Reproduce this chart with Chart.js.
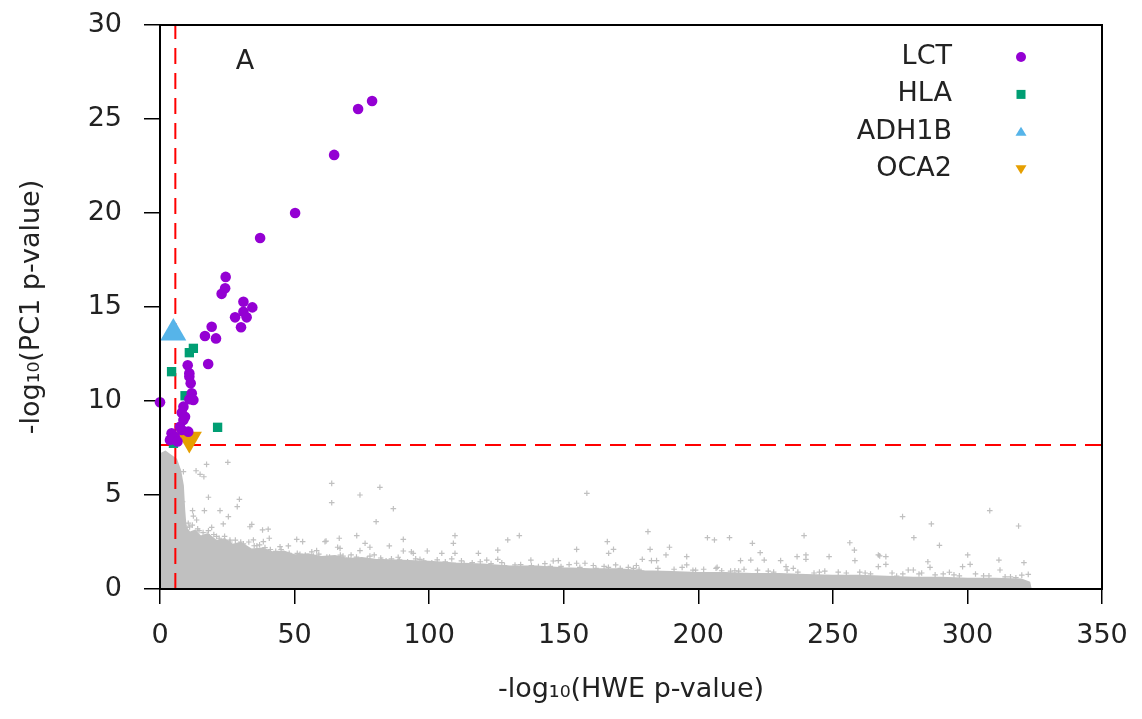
<!DOCTYPE html>
<html>
<head>
<meta charset="utf-8">
<script src="https://cdn.jsdelivr.net/npm/chart.js@4/dist/chart.umd.min.js"></script>
<style>
html,body{margin:0;padding:0;background:#fff;}
#wrap{width:1142px;height:719px;position:relative;}
</style>
</head>
<body>
<div id="wrap"><canvas id="c" width="1142" height="719"></canvas></div>
<script>
// ---------------- data ----------------
const seriesNames = ['LCT', 'HLA', 'ADH1B', 'OCA2'];
const seriesColors = ['#9400d3', '#009e73', '#56b4e9', '#e69f00'];
const panelLabel = 'A';
const xTitle = '-log\u2081\u2080(HWE p-value)';
const yTitle = '-log\u2081\u2080(PC1 p-value)';
const xTicks = [0, 50, 100, 150, 200, 250, 300, 350];
const yTicks = [0, 5, 10, 15, 20, 25, 30];
const hweThreshold = 5.7;
const pc1Threshold = 7.66;

const lctX = [78.8, 73.6, 64.7, 50.2, 37.2, 24.4, 24.2, 22.9, 31.0, 34.3, 31.0, 27.9, 32.2, 30.1, 19.2, 16.7, 20.8, 17.9, 10.3, 10.9, 10.9, 11.4, 11.8, 12.4, 10.9, 0.0, 8.7, 8.1, 9.3, 8.7, 8.1, 7.4, 4.3, 10.5, 3.7, 5.5, 6.5];
const lctY = [25.96, 25.53, 23.09, 20.0, 18.67, 16.6, 16.0, 15.7, 15.28, 14.98, 14.75, 14.45, 14.45, 13.92, 13.95, 13.46, 13.33, 11.97, 11.9, 11.47, 11.3, 10.94, 10.41, 10.05, 10.09, 9.93, 9.70, 9.38, 9.16, 8.99, 8.46, 8.63, 8.28, 8.37, 7.93, 8.1, 7.85];

const hlaX = [12.4, 10.9, 4.3, 9.3, 21.4, 5.0];
const hlaY = [12.8, 12.57, 11.56, 10.28, 8.6, 7.75];

const adhX = [4.95];
const adhY = [13.62];

const ocaX = [10.9];
const ocaY = [7.98];

// dense background region: upper edge of the solid grey mass
const denseX = [0, 0.5, 2, 4, 6, 7.5, 8.5, 9, 9.5, 11, 13, 15, 18, 21, 24, 27, 30, 34, 38, 42, 46, 50, 55, 60, 65, 70, 75, 80, 90, 100, 110, 120, 130, 140, 150, 160, 170, 180, 190, 200, 210, 220, 230, 240, 250, 260, 270, 280, 290, 300, 310, 320, 323, 323.5];
const denseY = [7.0, 7.2, 7.3, 7.1, 6.9, 6.3, 5.5, 4.2, 3.3, 3.0, 3.1, 2.8, 2.9, 2.55, 2.65, 2.35, 2.45, 2.1, 2.15, 1.95, 2.0, 1.8, 1.85, 1.7, 1.75, 1.6, 1.65, 1.55, 1.5, 1.45, 1.35, 1.3, 1.2, 1.2, 1.1, 1.05, 1.05, 0.95, 0.9, 0.85, 0.85, 0.8, 0.8, 0.75, 0.7, 0.7, 0.65, 0.6, 0.6, 0.55, 0.55, 0.5, 0.35, 0];

// scattered background SNPs above the dense mass
const bgX = [17.3, 25.2, 13.4, 14.9, 16.3, 8.7, 18.0, 29.5, 28.7, 22.3, 16.5, 12.1, 8.4, 8.1, 25.4, 23.5, 19.2, 34.1, 33.4, 38.1, 40.2, 40.6, 38.4, 34.7, 12.4, 13.6, 7.4, 9.7,
  63.8, 63.8, 74.3, 81.7, 86.7, 80.3, 50.8, 61.3, 66.6, 73.1, 76.2, 78.0, 85.2, 90.4, 90.4, 94.1, 99.3, 44.6, 56.4, 66.9, 53.0, 47.7, 61.7, 66.0, 74.3, 58.2, 71.0, 79.6, 88.5, 82.4, 96.6, 104.7, 109.6, 109.0, 109.6, 108.4,
  158.6, 308.3, 275.9, 286.6, 319.0, 280.1, 289.6, 181.3, 239.3, 203.4, 206.0, 211.6, 220.1, 166.2, 166.7, 129.2, 133.5, 154.8, 182.1, 189.3, 256.3, 258.0, 300.1, 321.0, 311.7, 195.7, 248.6, 236.7, 223.0, 267.4, 125.5, 93.4, 137.8, 148.0, 179.2, 215.7, 285.3,
  312.1, 301.0, 298.2, 286.1, 278.0, 279.9, 293.3, 320.2, 322.6, 273.7, 240.0, 240.0, 258.2, 266.9, 269.7, 269.7, 266.9, 206.6, 208.7, 213.6, 232.6, 235.3, 195.7, 219.5, 224.5, 230.6, 168.5, 118.3, 125.5, 146.1, 154.8, 157.9, 182.6, 184.5, 188.0, 131.9, 169.3, 175.9, 166.6, 121.4, 140.6,
  11.0, 14.5, 17.5, 21.0, 26.0, 30.0, 36.0, 43.0, 48.0, 52.0, 57.0, 63.0, 68.0, 77.0, 84.0, 92.0, 101.0, 113.0, 128.0, 145.0, 162.0, 178.0, 198.0, 215.0, 228.0, 245.0, 262.0, 282.0, 295.0, 308.0, 316.0,
  10.5, 12, 14, 16, 18, 20, 22, 24, 26, 28, 31, 33, 35, 37, 39, 41, 45,
  51, 54, 59, 62, 67, 70, 73, 78, 82, 86, 89, 95, 98, 103, 106, 112, 116, 119,
  123, 127, 134, 138, 143, 149, 152, 156, 161, 165, 171, 174, 177, 185, 191, 194, 199,
  202, 207, 212, 217, 222, 226, 233, 237, 243, 247, 252, 255, 260, 264, 272, 276, 283, 288, 291, 297, 303, 306, 314, 318];
const bgY = [6.63, 6.74, 6.29, 6.10, 5.97, 6.24, 4.88, 4.77, 4.38, 4.17, 4.17, 4.17, 4.64, 4.29, 3.85, 3.46, 3.28, 3.44, 3.31, 3.14, 3.18, 2.70, 2.52, 2.61, 3.88, 3.67, 3.71, 3.28,
  5.62, 4.59, 5.0, 5.41, 4.27, 3.58, 2.64, 2.52, 2.70, 2.84, 2.43, 2.22, 2.29, 2.64, 2.02, 1.90, 2.02, 2.25, 1.98, 2.16, 2.52, 2.29, 2.55, 2.22, 2.04, 2.04, 1.81, 1.81, 1.69, 1.54, 1.58, 1.90, 2.84, 2.43, 1.90, 1.60,
  5.09, 4.17, 3.85, 3.46, 3.35, 2.73, 2.32, 3.05, 2.84, 2.73, 2.61, 2.73, 2.43, 2.52, 1.90, 2.61, 2.84, 2.11, 2.11, 2.22, 2.46, 2.07, 1.81, 1.40, 1.54, 1.72, 1.72, 1.72, 1.93, 1.76, 2.07, 1.98, 1.54, 1.51, 1.58, 1.51, 1.45,
  1.01, 1.31, 1.19, 1.15, 1.01, 1.01, 0.89, 0.74, 0.78, 0.69, 1.81, 1.58, 1.51, 1.81, 1.72, 1.31, 1.19, 1.10, 0.97, 0.97, 1.19, 1.10, 1.28, 1.54, 1.54, 1.51, 2.11, 1.90, 1.58, 1.49, 1.37, 1.37, 1.51, 1.51, 1.81, 1.28, 1.28, 1.10, 1.15, 1.54, 1.19,
  3.3, 3.1, 2.9, 2.8, 2.6, 2.5, 2.3, 2.0, 1.9, 1.85, 1.75, 1.7, 1.75, 1.6, 1.5, 1.45, 1.4, 1.35, 1.25, 1.2, 1.1, 1.05, 1.0, 0.95, 0.9, 0.9, 0.85, 0.8, 0.75, 0.7, 0.65,
  3.5, 3.4, 3.2, 3.0, 3.1, 2.9, 2.7, 2.8, 2.5, 2.6, 2.4, 2.5, 2.3, 2.35, 2.2, 2.1, 2.1,
  1.9, 1.8, 1.85, 1.7, 1.8, 1.65, 1.7, 1.75, 1.65, 1.6, 1.55, 1.6, 1.5, 1.55, 1.45, 1.5, 1.4, 1.45,
  1.35, 1.4, 1.3, 1.25, 1.35, 1.2, 1.3, 1.15, 1.25, 1.2, 1.1, 1.15, 1.25, 1.1, 1.05, 1.15, 1.0,
  1.05, 1.15, 0.95, 1.05, 1.0, 0.95, 1.0, 0.9, 0.85, 0.95, 0.9, 0.85, 0.9, 0.8, 0.85, 0.8, 0.85, 0.75, 0.8, 0.7, 0.8, 0.7, 0.65, 0.6];

// ---------------- chart ----------------
const pts = (xs, ys) => xs.map((x, i) => ({x: x, y: ys[i]}));
const FONT = "'DejaVu Sans', sans-serif";
const FSIZE = 27;
const GREY = '#c0c0c0';
const TXT = '#222';

function marker(ctx, style, x, y, s, color) {
  ctx.save();
  ctx.fillStyle = color;
  ctx.beginPath();
  if (style === 'circle') {
    ctx.arc(x, y, s / 2, 0, Math.PI * 2);
  } else if (style === 'rect') {
    ctx.rect(x - s / 2, y - s / 2, s, s);
  } else if (style === 'triangle') {
    ctx.moveTo(x, y - s * 0.45); ctx.lineTo(x + s / 2, y + s * 0.35); ctx.lineTo(x - s / 2, y + s * 0.35);
  } else {
    ctx.moveTo(x, y + s * 0.45); ctx.lineTo(x + s / 2, y - s * 0.35); ctx.lineTo(x - s / 2, y - s * 0.35);
  }
  ctx.closePath();
  ctx.fill();
  ctx.restore();
}

const decor = {
  id: 'decor',
  afterDatasetsDraw(chart) {
    const ctx = chart.ctx;
    const a = chart.chartArea;
    ctx.save();
    ctx.strokeStyle = '#000';
    ctx.lineWidth = 2;
    ctx.strokeRect(a.left, a.top, a.right - a.left, a.bottom - a.top);
    // legend (gnuplot style: text right-aligned, symbol at right)
    ctx.font = FSIZE + 'px ' + FONT;
    ctx.textAlign = 'right';
    ctx.textBaseline = 'middle';
    const styles = ['circle', 'rect', 'triangle', 'down'];
    const sizes = [10, 9, 11, 11];
    seriesNames.forEach((n, i) => {
      const y = 57 + i * 37.4;
      ctx.fillStyle = TXT;
      ctx.fillText(n, 952, y);
      marker(ctx, styles[i], 1021, y, sizes[i], seriesColors[i]);
    });
    // panel label
    ctx.textAlign = 'center';
    ctx.fillStyle = TXT;
    ctx.fillText(panelLabel, 245, 62);
    ctx.restore();
  }
};

new Chart(document.getElementById('c'), {
  type: 'scatter',
  data: {
    datasets: [
      {label: seriesNames[0], data: pts(lctX, lctY), pointStyle: 'circle', pointRadius: 5.3, backgroundColor: seriesColors[0], borderWidth: 0, order: 0, clip: false},
      {label: seriesNames[1], data: pts(hlaX, hlaY), pointStyle: 'rect', pointRadius: 6.6, backgroundColor: seriesColors[1], borderWidth: 0, order: 1, clip: false},
      {label: seriesNames[2], data: pts(adhX, adhY), pointStyle: 'triangle', pointRadius: 15, backgroundColor: seriesColors[2], borderWidth: 0, order: 2, clip: false},
      {label: seriesNames[3], data: pts(ocaX, ocaY), pointStyle: 'triangle', rotation: 180, pointRadius: 14.5, backgroundColor: seriesColors[3], borderWidth: 0, order: 3, clip: false},
      {label: 'HWE threshold', type: 'line', data: [{x: hweThreshold, y: 0}, {x: hweThreshold, y: 30}], borderColor: '#ff0000', borderWidth: 2, borderDash: [16, 9], pointRadius: 0, fill: false, order: 5},
      {label: 'PC1 threshold', type: 'line', data: [{x: 0, y: pc1Threshold}, {x: 350, y: pc1Threshold}], borderColor: '#ff0000', borderWidth: 2, borderDash: [16, 9], pointRadius: 0, fill: false, order: 5},
      {label: 'other SNPs', data: pts(bgX, bgY), pointStyle: 'cross', pointRadius: 2.8, borderColor: GREY, backgroundColor: GREY, borderWidth: 1.2, order: 8},
      {label: 'other SNPs (dense)', type: 'line', data: pts(denseX, denseY), borderColor: GREY, backgroundColor: GREY, borderWidth: 2, pointRadius: 0, tension: 0, fill: 'origin', order: 9}
    ]
  },
  options: {
    responsive: false,
    animation: false,
    devicePixelRatio: 1,
    layout: {padding: {left: 0, top: 25, right: 40, bottom: 0}},
    plugins: {legend: {display: false}, tooltip: {enabled: false}},
    scales: {
      x: {
        type: 'linear', min: 0, max: 350,
        afterBuildTicks: s => { s.ticks = xTicks.map(v => ({value: v})); },
        afterFit: s => { s.height = 130; s.paddingLeft = 0; s.paddingRight = 0; },
        border: {display: false},
        grid: {drawOnChartArea: false, drawTicks: true, tickLength: 15, color: '#000', lineWidth: 1.5},
        ticks: {color: TXT, font: {family: FONT, size: FSIZE}, padding: 16, maxRotation: 0},
        title: {display: true, text: xTitle, color: TXT, font: {family: FONT, size: FSIZE}, padding: {top: 0, bottom: 13}}
      },
      y: {
        type: 'linear', min: 0, max: 30,
        afterBuildTicks: s => { s.ticks = yTicks.map(v => ({value: v})); },
        afterFit: s => { s.width = 160; s.paddingTop = 0; s.paddingBottom = 0; },
        border: {display: false},
        grid: {drawOnChartArea: false, drawTicks: true, tickLength: 16, color: '#000', lineWidth: 1.5},
        ticks: {color: TXT, font: {family: FONT, size: FSIZE}, padding: 22},
        title: {display: true, text: yTitle, color: TXT, font: {family: FONT, size: FSIZE}, padding: {top: 16, bottom: 0}}
      }
    }
  },
  plugins: [decor]
});
</script>
</body>
</html>
